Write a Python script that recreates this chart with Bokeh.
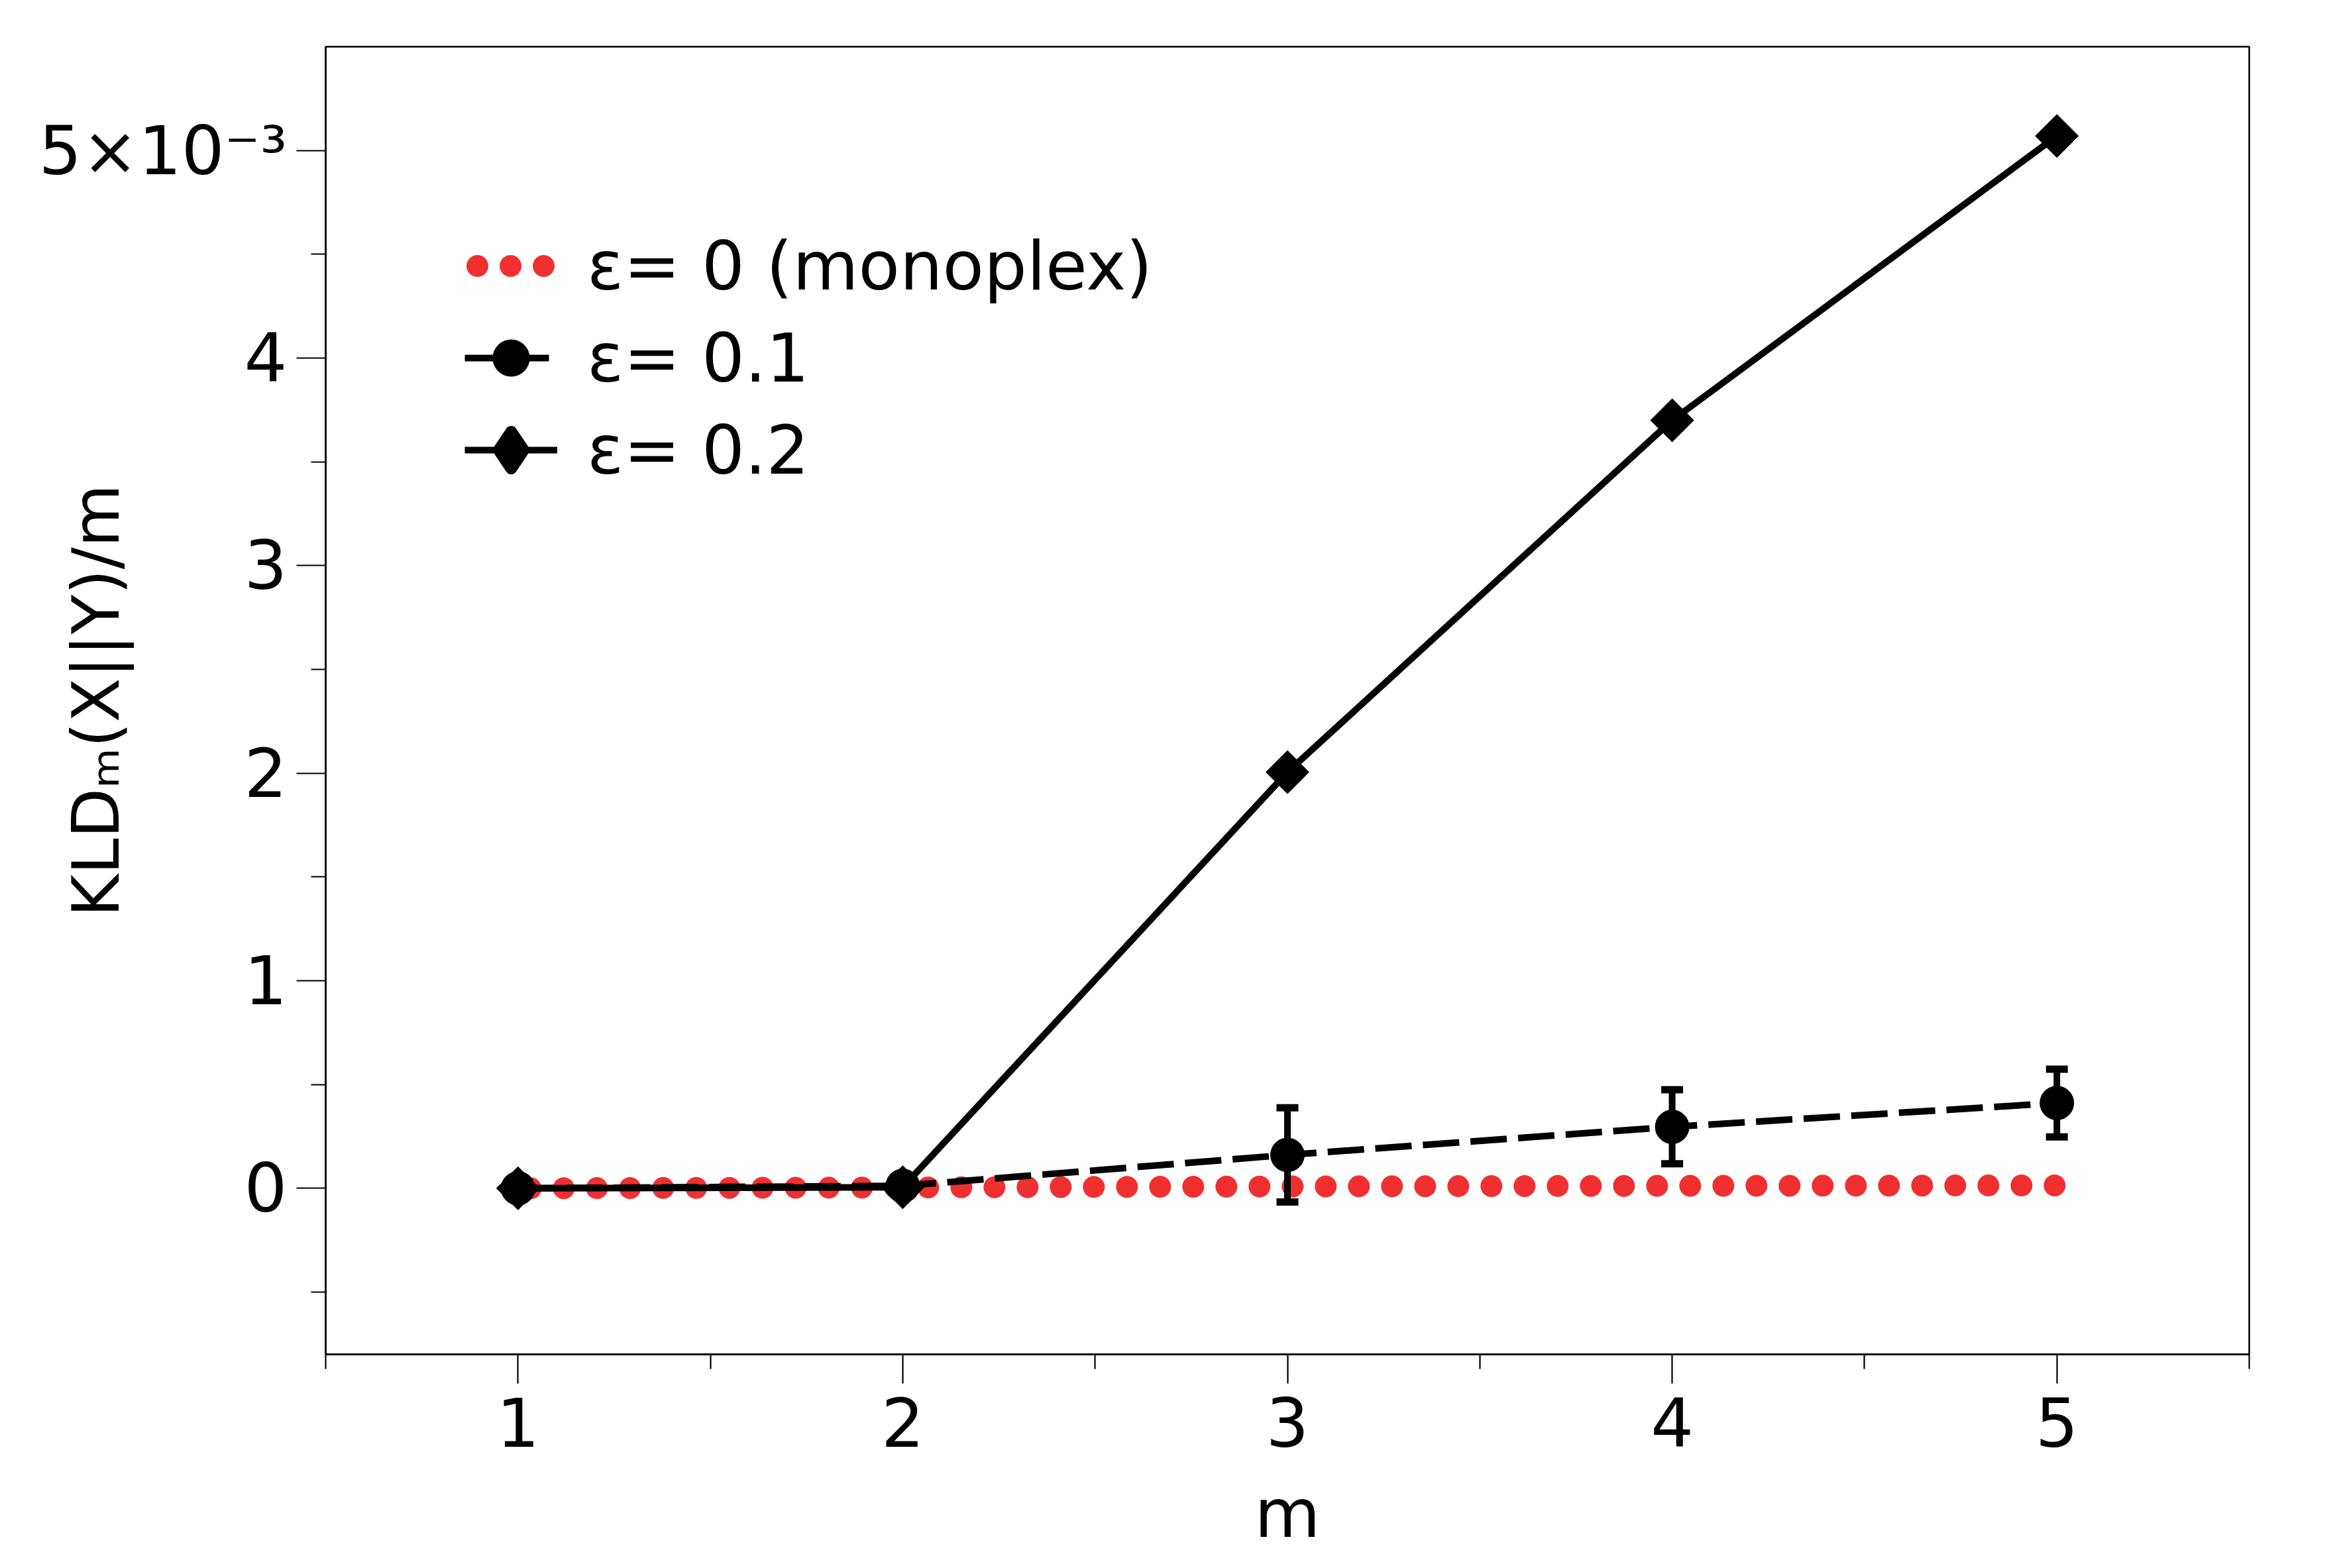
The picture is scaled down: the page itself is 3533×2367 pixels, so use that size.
import numpy as np
from bokeh.plotting import figure
from bokeh.models import (Range1d, FixedTicker, Whisker, TeeHead, ColumnDataSource,
                          Legend, LegendItem)
from bokeh.embed import file_html
from bokeh.resources import INLINE

# ---------------- data (values in units of 10^-3) ----------------
m_values = [1, 2, 3, 4, 5]
kld_eps0 = [0.0, 0.004, 0.009, 0.012, 0.014]
kld_eps01 = [0.0, 0.012, 0.161, 0.296, 0.411]
kld_eps01_lower = [0.0, 0.012, -0.066, 0.118, 0.248]
kld_eps01_upper = [0.0, 0.012, 0.388, 0.475, 0.574]
kld_eps02 = [0.0, 0.005, 2.005, 3.70, 5.07]

series_labels = ["ε= 0 (monoplex)", "ε= 0.1", "ε= 0.2"]
x_tick_values = [1, 2, 3, 4, 5]
x_tick_labels = ["1", "2", "3", "4", "5"]
x_minor_ticks = [0.5, 1.5, 2.5, 3.5, 4.5, 5.5]
y_tick_values = [0, 1, 2, 3, 4, 5]
y_tick_labels = ["0", "1", "2", "3", "4", "5×10⁻³"]
y_minor_ticks = [-0.5, 0.5, 1.5, 2.5, 3.5, 4.5]
x_axis_label = "m"
y_axis_label = "KLDₘ(X||Y)/m"

# ---------------- styling ----------------
FONT = "DejaVu Sans"
RED = "#F03030"
W, H = 3517, 2351
X0, X1 = 0.5, 5.5
Y0, Y1 = -0.8, 5.5
FL, FR, FT, FB = 499, 3402, 78, 2052  # reference frame edges (screenshot px)

p = figure(width=W, height=H, output_backend="svg", toolbar_location=None,
           x_range=Range1d(X0, X1), y_range=Range1d(Y0, Y1),
           min_border_left=FL - 8, min_border_right=W + 8 - FR,
           min_border_top=FT - 8, min_border_bottom=H + 8 - FB)
p.grid.visible = False
p.background_fill_color = "white"
p.border_fill_color = "white"
p.outline_line_color = "black"
p.outline_line_width = 2.5

for ax in (p.xaxis[0], p.yaxis[0]):
    ax.axis_line_width = 2.5
    ax.axis_line_color = "black"
    ax.major_tick_line_width = 2.2
    ax.minor_tick_line_width = 2.2
    ax.major_tick_line_color = "black"
    ax.minor_tick_line_color = "black"
    ax.major_tick_out = 44
    ax.major_tick_in = 0
    ax.minor_tick_out = 22
    ax.minor_tick_in = 0
    ax.major_label_text_font = FONT
    ax.major_label_text_font_size = "102px"
    ax.major_label_text_color = "black"
    ax.axis_label_text_font = FONT
    ax.axis_label_text_font_style = "normal"
    ax.axis_label_text_color = "black"

p.xaxis.ticker = FixedTicker(ticks=x_tick_values, minor_ticks=x_minor_ticks)
p.xaxis.major_label_overrides = dict(zip(x_tick_values, x_tick_labels))
p.xaxis.major_label_standoff = 20
p.xaxis.axis_label = x_axis_label
p.xaxis.axis_label_text_font_size = "102px"
p.xaxis.axis_label_standoff = 38

p.yaxis.ticker = FixedTicker(ticks=y_tick_values, minor_ticks=y_minor_ticks)
p.yaxis.major_label_overrides = dict(zip(y_tick_values, y_tick_labels))
p.yaxis.major_label_standoff = 14
p.yaxis.axis_label = y_axis_label
p.yaxis.axis_label_text_font_size = "98px"
p.yaxis.axis_label_standoff = -146

src = ColumnDataSource(dict(m=m_values, e0=kld_eps0, e1=kld_eps01, e2=kld_eps02))

r0 = p.line("m", "e0", source=src, line_color=RED, line_width=33,
            line_dash="0 50", line_dash_offset=31, line_cap="round")

keep = [i for i in range(len(m_values)) if kld_eps01_upper[i] > kld_eps01_lower[i]]
err_src = ColumnDataSource(dict(
    m=[m_values[i] for i in keep],
    lo=[kld_eps01_lower[i] for i in keep],
    hi=[kld_eps01_upper[i] for i in keep]))

r1 = p.line("m", "e1", source=src, line_color="black", line_width=10,
            line_dash="55 17")
whisk = Whisker(base="m", lower="lo", upper="hi", source=err_src,
                dimension="height", line_color="black", line_width=10,
                upper_head=TeeHead(size=33, line_width=11, line_color="black"),
                lower_head=TeeHead(size=33, line_width=11, line_color="black"),
                level="glyph")
p.add_layout(whisk)
c1 = p.scatter("m", "e1", source=src, marker="circle", size=51,
               fill_color="black", line_color="black")

r2 = p.line("m", "e2", source=src, line_color="black", line_width=10)
# diamond shape used for the legend swatch (hidden beneath the plot markers)
d2_leg = p.scatter("m", "e2", source=src, marker="diamond", size=30,
                   fill_color="black", line_color="black", line_width=18,
                   line_join="round")
d2 = p.scatter("m", "e2", source=src, marker="square", angle=np.pi / 4, size=46,
               fill_color="black", line_color="black")

legend = Legend(items=[LegendItem(label=series_labels[0], renderers=[r0]),
                       LegendItem(label=series_labels[1], renderers=[r1, c1]),
                       LegendItem(label=series_labels[2], renderers=[r2, d2_leg])],
                location=(210, 1296), glyph_width=140, glyph_height=138,
                spacing=1, padding=0, margin=0, border_line_color=None,
                background_fill_alpha=0, label_text_font=FONT,
                label_text_font_size="102px", label_text_color="black",
                label_standoff=45)
p.add_layout(legend)

open("out.html", "w").write(file_html(p, INLINE))
